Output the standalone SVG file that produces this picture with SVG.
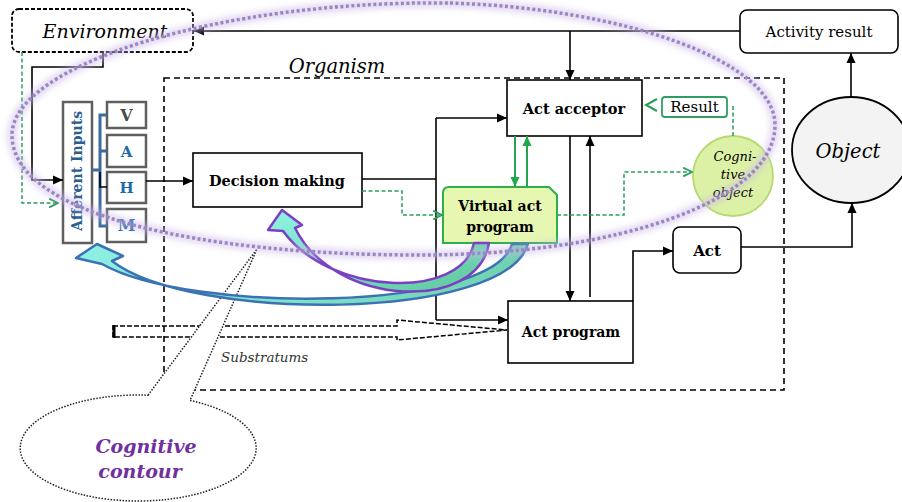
<svg xmlns="http://www.w3.org/2000/svg" width="902" height="502" viewBox="0 0 902 502">
<style>
.t{font-family:"DejaVu Serif","Liberation Serif",serif;}
.b{font-weight:bold;}
.i{font-style:italic;}
.box{fill:#fff;stroke:#000;stroke-width:1.6;}
.ln{fill:none;stroke:#000;stroke-width:1.6;}
.gd{fill:none;stroke:#2a9d5c;stroke-width:1.5;stroke-dasharray:4 2.5;}
.gs{fill:none;stroke:#22a650;stroke-width:2;}
.sense{fill:#fff;stroke:#5f5f5f;stroke-width:2.5;}
.br{fill:none;stroke:#3c6b9e;stroke-width:3;}
</style>
<defs>
<marker id="ah" viewBox="0 0 10 10" refX="10" refY="5" markerWidth="11" markerHeight="10" markerUnits="userSpaceOnUse" orient="auto"><path d="M0,0.5 L10,5 L0,9.5 z" fill="#000"/></marker>
<marker id="gh" viewBox="0 0 10 10" refX="10" refY="5" markerWidth="11" markerHeight="10" markerUnits="userSpaceOnUse" orient="auto"><path d="M0,0.5 L10,5 L0,9.5 z" fill="#22a650"/></marker>
<marker id="gc" viewBox="0 0 10 10" refX="9" refY="5" markerWidth="11" markerHeight="11" markerUnits="userSpaceOnUse" orient="auto"><path d="M1,1 L9,5 L1,9" fill="none" stroke="#2a9d5c" stroke-width="1.6"/></marker>
<linearGradient id="gp" x1="0" y1="0" x2="1" y2="1"><stop offset="0" stop-color="#8ff3e3"/><stop offset="1" stop-color="#5fc79b"/></linearGradient>
<linearGradient id="gb" x1="0" y1="0" x2="1" y2="0"><stop offset="0" stop-color="#8ef0e4"/><stop offset="1" stop-color="#6fd0b0"/></linearGradient>
<filter id="blur" x="-10%" y="-10%" width="120%" height="120%"><feGaussianBlur stdDeviation="3"/></filter>
</defs>

<g id="organism">
<rect x="164" y="78" width="620" height="312" fill="none" stroke="#000" stroke-width="1.6" stroke-dasharray="6 4"/>
<text x="337" y="73" class="t i" font-size="19.5" text-anchor="middle">Organism</text>
</g>

<g id="substratums">
<path d="M113,326 H397 V320 L507,330 L397,340 V337 H113 Z" fill="none" stroke="#000" stroke-width="1.5" stroke-dasharray="5 2"/>
<path d="M114,325 V338" stroke="#000" stroke-width="3"/>
<text x="221" y="362" class="t i" font-size="13.5" fill="#333">Substratums</text>
</g>

<g id="cognitive-contour">
<path d="M148,395.2 L257,249 L190,400.4 A118 53 0 1 1 148,395.2 Z" fill="#fff" stroke="#222" stroke-width="1.5" stroke-dasharray="1.5 1.5"/>
<text x="146" y="453" class="t b i" font-size="19" fill="#7030a0" text-anchor="middle">Cognitive</text>
<text x="140" y="478" class="t b i" font-size="19" fill="#7030a0" text-anchor="middle">contour</text>
</g>

<g id="environment">
<rect x="12" y="9" width="181" height="43" rx="7" fill="#fff" stroke="#000" stroke-width="1.8" stroke-dasharray="4 2"/>
<text x="105" y="38" class="t i" font-size="19" text-anchor="middle">Environment</text>
</g>
<g id="activity-result">
<rect x="740" y="10" width="158" height="43" rx="7" class="box"/>
<text x="819" y="37" class="t" font-size="15" text-anchor="middle">Activity result</text>
</g>
<g id="object">
<ellipse cx="851" cy="150" rx="59" ry="53" fill="#f3f3f3" stroke="#000" stroke-width="1.8"/>
<text x="848" y="158" class="t i" font-size="19.5" text-anchor="middle">Object</text>
</g>
<g id="afferent-inputs">
<rect x="63" y="102" width="29" height="141" class="sense"/>
<text transform="translate(82,171) rotate(-90)" class="t b" font-size="14" fill="#2b5d8e" text-anchor="middle">Afferent Inputs</text>
</g>
<g id="input-v">
<rect x="107" y="102" width="39" height="26" class="sense"/>
<text x="126.5" y="121" class="t b" font-size="16" fill="#4a4a4a" text-anchor="middle">V</text>
</g>
<g id="input-a">
<rect x="107" y="135" width="39" height="32" class="sense"/>
<text x="126.5" y="157" class="t b" font-size="15" fill="#1e6aa6" text-anchor="middle">A</text>
</g>
<g id="input-h">
<rect x="107" y="172" width="39" height="31" class="sense"/>
<text x="126.5" y="193" class="t b" font-size="15" fill="#1e6aa6" text-anchor="middle">H</text>
</g>
<g id="input-m">
<rect x="107" y="209" width="39" height="33" class="sense"/>
<text x="126.5" y="231" class="t b" font-size="16" fill="#1e6aa6" text-anchor="middle">M</text>
</g>
<g id="decision-making">
<rect x="193" y="153" width="169" height="54" class="box"/>
<text x="277" y="186" class="t b" font-size="14.5" text-anchor="middle">Decision making</text>
</g>
<g id="act-acceptor">
<rect x="507" y="80" width="135" height="56" class="box"/>
<text x="574" y="114" class="t b" font-size="14.5" text-anchor="middle">Act acceptor</text>
</g>
<g id="virtual-act-program">
<path d="M449,187 H549 L557,195 V243 H443 V193 Q443,187 449,187 Z" fill="#e6f7b2" stroke="#2bb04a" stroke-width="2"/>
<text x="500" y="211" class="t b" font-size="14" text-anchor="middle">Virtual act</text>
<text x="500" y="232" class="t b" font-size="14" text-anchor="middle">program</text>
</g>
<g id="act-program">
<rect x="508" y="301" width="125" height="62" class="box"/>
<text x="571" y="337" class="t b" font-size="14" text-anchor="middle">Act program</text>
</g>
<g id="act">
<rect x="673" y="227" width="68" height="46" rx="7" class="box"/>
<text x="707" y="256" class="t b" font-size="15" text-anchor="middle">Act</text>
</g>
<g id="result">
<rect x="662" y="97" width="65" height="20" rx="3" fill="#fff" stroke="#2e9e62" stroke-width="1.8"/>
<text x="694.5" y="112" class="t" font-size="15" text-anchor="middle">Result</text>
</g>
<g id="cognitive-object">
<circle cx="733" cy="176" r="40" fill="#d9f09c" fill-opacity="0.9" stroke="#b5da70" stroke-width="1.8"/>
<text x="735" y="161" class="t i" font-size="13" text-anchor="middle">Cogni-</text>
<text x="733" y="179" class="t i" font-size="13" text-anchor="middle">tive</text>
<text x="733" y="197" class="t i" font-size="13" text-anchor="middle">object</text>
</g>

<g id="connectors">
<path class="ln" d="M740,31 H194" marker-end="url(#ah)"/>
<path class="ln" d="M570,31 V80" marker-end="url(#ah)"/>
<path class="ln" d="M851,97 V53" marker-end="url(#ah)"/>
<path class="ln" d="M741,247 H852 V203" marker-end="url(#ah)"/>
<path class="ln" d="M103,52 V67 H32 V180 H63" marker-end="url(#ah)"/>
<path class="gd" d="M22,52 V203 H58" marker-end="url(#gc)"/>
<path class="ln" d="M146,181 H193" marker-end="url(#ah)"/>
<path class="ln" d="M362,179 H436" stroke-width="2.2"/>
<path class="ln" d="M436,118 V320"/>
<path class="ln" d="M436,118 H507" marker-end="url(#ah)"/>
<path class="ln" d="M436,320 H508" marker-end="url(#ah)"/>
<path class="gs" d="M515,136 V187" marker-end="url(#gh)"/>
<path class="gs" d="M527,187 V136" marker-end="url(#gh)"/>
<path class="ln" d="M570,136 V301" marker-end="url(#ah)"/>
<path class="ln" d="M590,297 V136" marker-end="url(#ah)"/>
<path class="ln" d="M633,301 V251 H673" marker-end="url(#ah)"/>
<path class="gd" d="M362,191 H402 V215 H442" marker-end="url(#gc)"/>
<path class="gd" d="M557,215 H624 V172 H692" marker-end="url(#gc)"/>
<path class="gd" d="M733,106 V136"/>
<polyline points="657,99 646,105 657,111" fill="none" stroke="#2a9d5c" stroke-width="2"/>
<path class="br" d="M107,115 H100 V226 H107 M100,151 H107 M92,170 H100"/>
<path class="ln" d="M100,172 V187 H107" stroke-width="2"/>
</g>

<g id="feedback-arrows">
<path d="M512,244 C492,312 190,314 102,264 L76,258 L97,244 L123,256 L112,261 C190,322 505,322 528,244 Z" fill="url(#gb)" stroke="#3b72b4" stroke-width="2.5" stroke-linejoin="round"/>
<path d="M474,243 C462,300 330,296 283,231 L268,230 L282,210 L302,225 L295,228 C335,308 478,312 489,243 Z" fill="url(#gp)" stroke="#7b3fc4" stroke-width="2.5" stroke-linejoin="round"/>
</g>

<g id="cognitive-loop">
<path d="M450,3 C620,8 775,60 775,125 C775,200 620,255 420,255 C200,255 12,215 12,135 C12,65 220,0 450,3 Z" fill="none" stroke="#c9b8e6" stroke-width="9" opacity="0.55" filter="url(#blur)"/>
<path d="M450,3 C620,8 775,60 775,125 C775,200 620,255 420,255 C200,255 12,215 12,135 C12,65 220,0 450,3 Z" fill="none" stroke="#9a86c4" stroke-width="3.5" stroke-dasharray="3 2.5"/>
</g>
</svg>
